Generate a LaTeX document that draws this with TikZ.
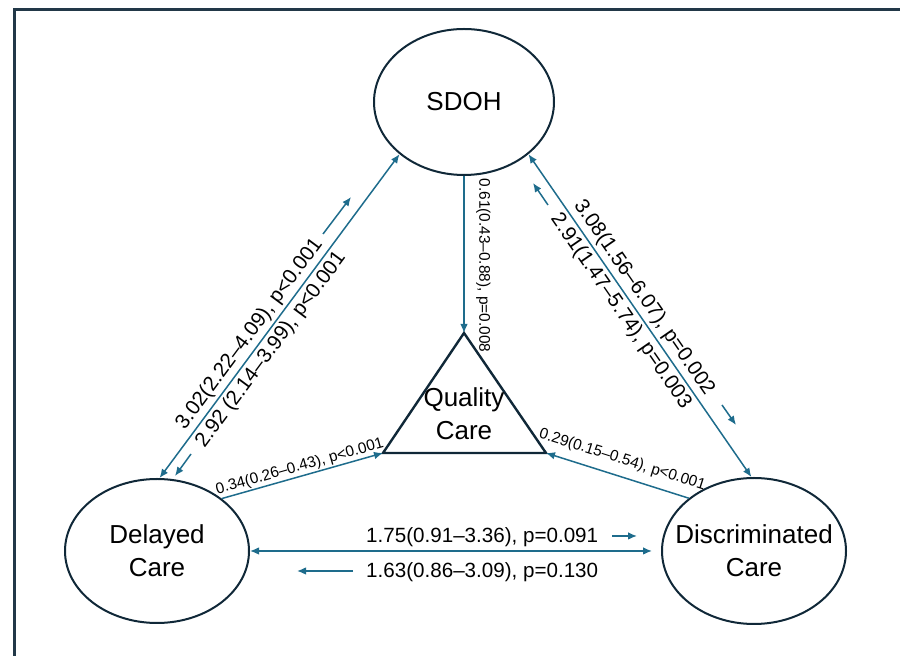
\documentclass[tikz,border=0pt]{standalone}
\usepackage{fontspec}
\setmainfont{Liberation Sans}
\usepackage{tikz}
\usetikzlibrary{arrows.meta,positioning,shapes.geometric,calc}

\definecolor{pathblue}{RGB}{30,108,140}
\definecolor{inkdark}{RGB}{16,40,56}
\definecolor{framedark}{RGB}{34,56,72}

\begin{document}
\begin{tikzpicture}[x=0.5pt, y=-0.5pt,
  >={Latex[length=4.5pt,width=3.8pt]},
  oval/.style={draw=inkdark, line width=1pt, ellipse, align=center,
               font=\fontsize{13}{16.5}\selectfont, inner sep=0pt},
  tri/.style={draw=inkdark, line width=1.2pt, line join=miter},
  arr/.style={->, color=pathblue, line width=0.75pt},
  dbl/.style={<->, color=pathblue, line width=0.75pt},
  big/.style={font=\fontsize{10.3}{12}\selectfont, text=black, inner sep=1pt, sloped},
  small/.style={font=\fontsize{7.7}{9}\selectfont, text=black, inner sep=0.7pt, sloped}]

  \useasboundingbox (0,0) rectangle (900,656);
  \draw[framedark, line width=1.5pt] (900,10) -- (14,10) -- (14,656);

  \node[oval, minimum width=90pt, minimum height=73pt] (sdoh) at (464,102) {SDOH};
  \node[oval, minimum width=92pt, minimum height=72pt] (dc)   at (157,551) {Delayed\\Care};
  \node[oval, minimum width=92pt, minimum height=73pt] (disc) at (754,551)
       {\makebox[0pt]{Discriminated}\\Care};

  % triangle drawn from its corners, text put in the middle
  \coordinate (qtop)   at (464,333);
  \coordinate (qleft)  at (383,453);
  \coordinate (qright) at (546,453);
  \draw[tri] (qtop) -- (qleft) -- (qright) -- cycle;
  \node[align=center, font=\fontsize{13}{16.5}\selectfont] (qual) at (464,414) {Quality\\Care};

  \draw[arr] (sdoh.south) -- node[small, above=5pt, pos=0.57] {0.61(0.43–0.88), p=0.008} (qtop);
  \draw[arr] (dc.39) -- node[small, above=0pt, pos=0.5] {0.34(0.26–0.43), p<0.001} (qleft);
  \draw[arr] (disc.141) -- node[small, above=3.5pt, pos=0.5] {0.29(0.15–0.54), p<0.001} (qright);

  \draw[dbl] (dc.88) -- node[big, above=0.5pt, pos=0.42] {3.02(2.22–4.09), p<0.001}
                        node[big, below=0.5pt, pos=0.42] {2.92 (2.14–3.99), p<0.001} (sdoh.219);
  \draw[dbl] (sdoh.321) -- node[big, above=0.5pt, pos=0.468] {3.08(1.56–6.07), p=0.002}
                           node[big, below=0.5pt, pos=0.463] {2.91(1.47–5.74), p=0.003} (disc.92);
  \draw[dbl, shorten >=4.5pt] (dc.east) -- node[big, above=0.5pt, pos=0.565] {1.75(0.91–3.36), p=0.091}
                                           node[big, below=4.5pt, pos=0.565] {1.63(0.86–3.09), p=0.130} (disc.west);

  % short direction marks beside the labels
  \coordinate (d2sA) at (323,234);  \coordinate (d2sB) at (351,197);
  \coordinate (s2dA) at (191,454);  \coordinate (s2dB) at (175,476);
  \coordinate (x2sA) at (548,205);  \coordinate (x2sB) at (533,183);
  \coordinate (s2xA) at (722,405);  \coordinate (s2xB) at (736,425);
  \coordinate (d2xA) at (612,536);  \coordinate (d2xB) at (637,536);
  \coordinate (x2dA) at (353,571);  \coordinate (x2dB) at (297,571);
  \draw[arr] (d2sA) -- (d2sB);
  \draw[arr] (s2dA) -- (s2dB);
  \draw[arr] (x2sA) -- (x2sB);
  \draw[arr] (s2xA) -- (s2xB);
  \draw[arr] (d2xA) -- (d2xB);
  \draw[arr] (x2dA) -- (x2dB);
\end{tikzpicture}
\end{document}
